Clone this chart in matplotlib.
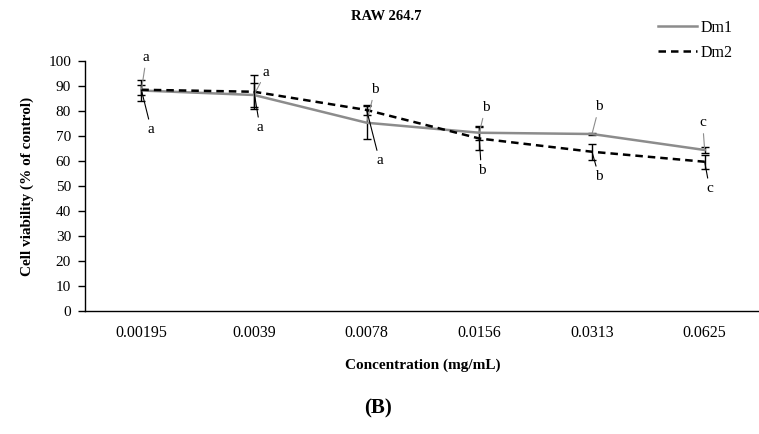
import matplotlib
matplotlib.use("Agg")
import matplotlib.pyplot as plt

plt.rcParams['font.family'] = ['Liberation Serif', 'DejaVu Serif']

# viability data (% of control) for each extract
concentrations = ["0.00195", "0.0039", "0.0078", "0.0156", "0.0313", "0.0625"]
dm1 = [88.2, 86.4, 75.3, 71.3, 70.8, 64.4]
dm1_err = [4.3, 4.9, 6.6, 2.7, 0.5, 1.3]
dm2 = [88.5, 87.7, 80.4, 69.0, 63.7, 59.7]
dm2_err = [2.0, 6.7, 2.0, 4.7, 3.3, 2.7]

# significance letters
dm1_letters = ["a", "a", "b", "b", "b", "c"]
dm2_letters = ["a", "a", "a", "b", "b", "c"]

# label offsets in pixels (dx, dy)
dm1_offsets = [(5, 33), (12, 23), (8, 33), (6, 25), (7, 27), (-2, 27)]
dm2_offsets = [(10, -40), (6, -36), (13, -51), (2, -32), (7, -25), (5, -27)]

fig = plt.figure(figsize=(7.59, 4.34), dpi=100)
ax = fig.add_axes([85 / 759, 1 - 311 / 434, 676 / 759, 250 / 434])

x = list(range(len(concentrations)))

ax.errorbar(x, dm1, yerr=dm1_err, fmt='none', ecolor='black', elinewidth=1,
            capsize=2.6, capthick=1, zorder=2)
ax.errorbar(x, dm2, yerr=dm2_err, fmt='none', ecolor='black', elinewidth=1,
            capsize=2.6, capthick=1, zorder=2)
ax.plot(x, dm1, color='#8c8c8c', lw=1.8, label='Dm1', zorder=3)
ax.plot(x, dm2, color='black', lw=1.8, ls=(0, (3, 2)), label='Dm2', zorder=3)

for xi, yi, lab, off in zip(x, dm1, dm1_letters, dm1_offsets):
    ax.annotate(lab, xy=(xi, yi), xytext=off, textcoords='offset pixels',
                ha='center', va='center', fontsize=11,
                arrowprops=dict(arrowstyle='-', color='#8c8c8c', lw=0.8,
                                shrinkA=1, shrinkB=0))
for xi, yi, lab, off in zip(x, dm2, dm2_letters, dm2_offsets):
    ax.annotate(lab, xy=(xi, yi), xytext=off, textcoords='offset pixels',
                ha='center', va='center', fontsize=11,
                arrowprops=dict(arrowstyle='-', color='black', lw=0.8,
                                shrinkA=1, shrinkB=0))

ax.set_xlim(-0.5, 5.5)
ax.set_ylim(0, 100)
ax.set_yticks(range(0, 101, 10))
ax.set_xticks(x)
ax.set_xticklabels(concentrations)
ax.tick_params(axis='x', length=0, pad=10, labelsize=11.5)
ax.tick_params(axis='y', length=5, width=1, labelsize=11, pad=5)
ax.spines['top'].set_visible(False)
ax.spines['right'].set_visible(False)
ax.spines['left'].set_linewidth(1)
ax.spines['bottom'].set_linewidth(1)

ax.set_ylabel('Cell viability (% of control)', fontsize=11, fontweight='bold', labelpad=10)
ax.set_xlabel('Concentration (mg/mL)', fontsize=11, fontweight='bold', labelpad=13)

fig.text(386 / 759, 1 - 17 / 434, 'RAW 264.7', ha='center', va='center',
         fontsize=10.5, fontweight='bold')
fig.text(378 / 759, 1 - 408 / 434, '(B)', ha='center', va='center',
         fontsize=15, fontweight='bold')

fig.legend(loc='upper left', bbox_to_anchor=(658 / 759, 1 - 20 / 434),
           frameon=False, fontsize=11.5, handlelength=2.45, handletextpad=0.2,
           labelspacing=0.55, borderaxespad=0, borderpad=0)

fig.savefig('out.png', dpi=100)
